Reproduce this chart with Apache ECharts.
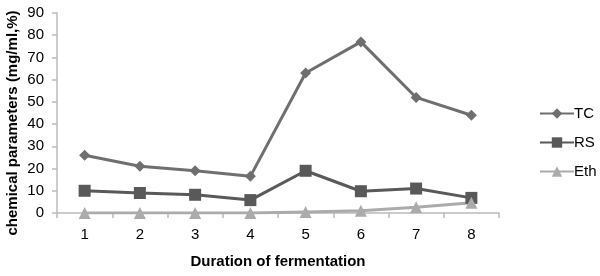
<!DOCTYPE html>
<html>
<head>
<meta charset="utf-8">
<script src="https://cdn.jsdelivr.net/npm/echarts@6/dist/echarts.min.js"></script>
<style>
	html, body { margin: 0; padding: 0; background: #fff; }
	#chart { width: 600px; height: 276px; }
</style>
</head>
<body>
<div id="chart"></div>
<script>
// 数据
var days = ['1', '2', '3', '4', '5', '6', '7', '8']
var tcValues = [26, 21, 19, 16.5, 63, 77, 52, 44]
var rsValues = [10, 9, 8.2, 5.8, 19, 9.8, 11, 6.8]
var ethValues = [0, 0, 0, 0, 0.5, 1, 2.6, 4.6]

var font = 'Liberation Sans, Arial, sans-serif'

var chart = echarts.init(document.getElementById('chart'))
var option = {
	animation: false,
	grid: {
		left: 57,
		right: 101,
		top: 13,
		bottom: 63
	},
	// y轴标题 (单独放置, 位置更准)
	graphic: [
		{
			type: 'text',
			x: 13,
			y: 123,
			rotation: Math.PI / 2,
			style: {
				text: 'chemical parameters (mg/ml,%)',
				font: 'bold 15px ' + font,
				fill: '#000',
				align: 'center',
				verticalAlign: 'middle'
			}
		}
	],
	legend: {
		orient: 'vertical',
		left: 539,
		top: 106,
		padding: 0,
		itemWidth: 34,
		itemHeight: 13,
		itemGap: 14,
		textStyle: { fontFamily: font, fontSize: 15, color: '#000', padding: [0, 0, 0, -5] },
		data: ['TC', 'RS', 'Eth']
	},
	xAxis: {
		type: 'category',
		data: days,
		boundaryGap: true,
		name: 'Duration of fermentation',
		nameLocation: 'middle',
		nameGap: 41,
		nameTextStyle: { fontFamily: font, fontSize: 15, fontWeight: 'bold', color: '#000' },
		axisLine: { lineStyle: { color: '#bbb', width: 1.5 } },
		axisTick: { show: true, length: 5, lineStyle: { color: '#bbb', width: 1.5 } },
		axisLabel: { fontFamily: font, fontSize: 15, color: '#000', margin: 14 }
	},
	yAxis: {
		type: 'value',
		min: 0,
		max: 90,
		interval: 10,
		axisLine: { show: true, lineStyle: { color: '#bbb', width: 1.5 } },
		axisTick: { show: true, length: 5, lineStyle: { color: '#bbb', width: 1.5 } },
		axisLabel: { fontFamily: font, fontSize: 15, color: '#000', margin: 13 },
		splitLine: { show: false }
	},
	series: [
		{
			name: 'TC',
			type: 'line',
			data: tcValues,
			symbol: 'diamond',
			symbolSize: 11,
			lineStyle: { color: '#6f6f6f', width: 3 },
			itemStyle: { color: '#6f6f6f' }
		},
		{
			name: 'RS',
			type: 'line',
			data: rsValues,
			symbol: 'rect',
			symbolSize: 12,
			lineStyle: { color: '#595959', width: 3 },
			itemStyle: { color: '#595959' }
		},
		{
			name: 'Eth',
			type: 'line',
			data: ethValues,
			symbol: 'triangle',
			symbolSize: 12,
			lineStyle: { color: '#ababab', width: 3 },
			itemStyle: { color: '#ababab' }
		}
	]
}
chart.setOption(option)
</script>
</body>
</html>
